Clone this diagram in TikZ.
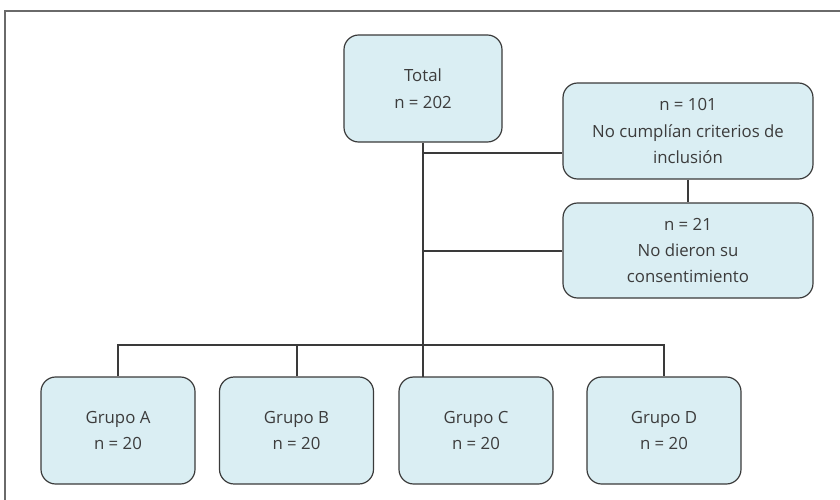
\documentclass[tikz,border=0pt]{standalone}
\usepackage{fontspec}
\setmainfont{Open Sans}
\definecolor{boxfill}{HTML}{DAEEF3}
\definecolor{boxline}{HTML}{3A3A3A}
\definecolor{txt}{HTML}{3C3C3C}
\definecolor{frame}{HTML}{6A6A6A}
\begin{document}
\begin{tikzpicture}[x=0.75pt,y=-0.75pt,
  box/.style={draw=boxline,line width=0.9pt,fill=boxfill,rounded corners=11pt,
    align=center,text=txt,inner sep=0pt,
    font=\fontsize{12.6}{19.8}\selectfont},
  link/.style={draw=boxline,line width=1.4pt}]
\useasboundingbox (0,0) rectangle (840,500);
\draw[frame,line width=0.8pt] (840,11) -- (5,11) -- (5,500);
\node[box,minimum width=118.5pt,minimum height=80.25pt] (total) at (423,88.5) {Total\\n = 202};
\node[box,minimum width=187.5pt,minimum height=72pt] (ex1) at (688,131) {n = 101\\No cumplían criterios de\\inclusión};
\node[box,minimum width=187.5pt,minimum height=71.25pt] (ex2) at (688,250.5) {n = 21\\No dieron su\\consentimiento};
\node[box,minimum width=115.5pt,minimum height=80.25pt] (gA) at (118,430.5) {Grupo A\\n = 20};
\node[box,minimum width=115.5pt,minimum height=80.25pt] (gB) at (296.5,430.5) {Grupo B\\n = 20};
\node[box,minimum width=115.5pt,minimum height=80.25pt] (gC) at (476,430.5) {Grupo C\\n = 20};
\node[box,minimum width=115.5pt,minimum height=80.25pt] (gD) at (664,430.5) {Grupo D\\n = 20};
\coordinate (j1) at (423,153);
\coordinate (j2) at (423,251);
\coordinate (bar) at (423,345);
\coordinate (cTop) at (423,377);
\draw[link] (total.south) -- (cTop);
\draw[link] (j1) -- (j1 -| ex1.west);
\draw[link] (j2) -- (j2 -| ex2.west);
\draw[link] (ex1.south) -- (ex2.north);
\draw[link] (gA.north) -- (gA.north |- bar) -- (gD.north |- bar) -- (gD.north);
\draw[link] ([xshift=0.5pt]gB.north) -- ([xshift=0.5pt]gB.north |- bar);
\end{tikzpicture}
\end{document}
